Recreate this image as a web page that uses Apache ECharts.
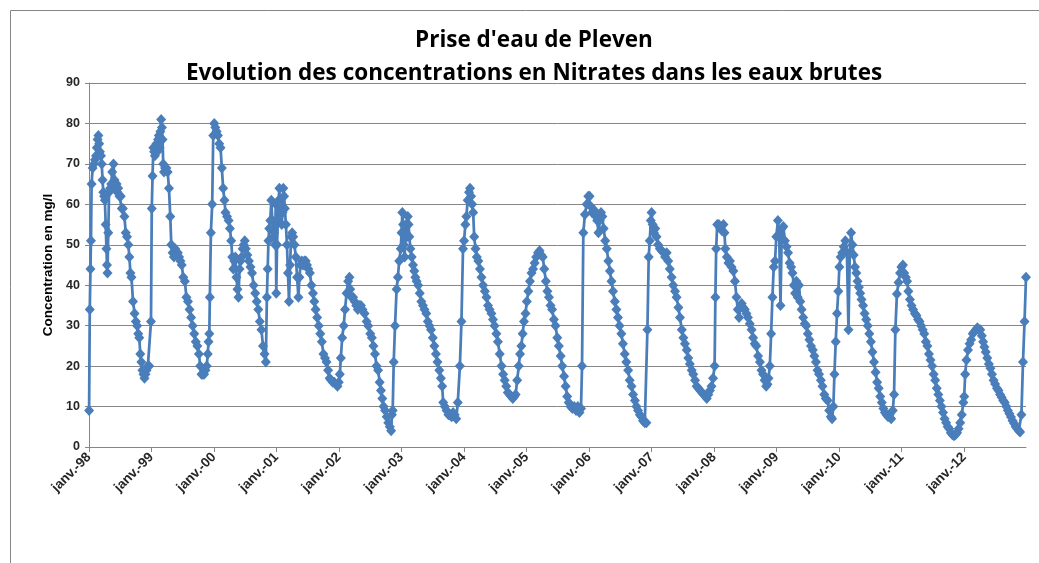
<!DOCTYPE html>
<html lang="fr">
<head>
    <meta charset="UTF-8">
    <title>Prise d'eau de Pleven</title>
    <style>
        html, body {
            margin: 0;
            padding: 0;
            background: #fff;
        }

        #container {
            width: 1039px;
            height: 563px;
        }
    </style>
    <script src="https://cdn.jsdelivr.net/npm/echarts@6/dist/echarts.min.js"></script>
</head>
<body>
<div id="container"></div>
<script type="text/javascript">
    // annees affichees sur l'axe (janv. de chaque annee)
    var years = [1998, 1999, 2000, 2001, 2002, 2003, 2004, 2005, 2006, 2007, 2008, 2009, 2010, 2011, 2012];

    // mesures : [mois dans l'annee (0-12), nitrates mg/l]
    var n1998 = [[0.02, 9], [0.15, 34], [0.28, 44], [0.38, 51], [0.5, 65], [0.7, 69], [0.95, 70], [1.15, 71], [1.35, 72], [1.5, 74], [1.65, 76], [1.8, 77], [1.95, 75], [2.1, 73], [2.3, 72], [2.45, 70], [2.6, 66], [2.75, 63], [2.9, 62], [3.05, 61], [3.2, 55], [3.35, 49], [3.45, 45], [3.55, 43], [3.7, 53], [3.85, 63], [4.05, 64], [4.25, 65], [4.45, 68], [4.7, 70], [4.9, 66], [5.1, 64], [5.3, 65], [5.45, 63], [5.6, 64], [5.85, 62], [6.1, 62], [6.3, 59], [6.5, 59], [6.8, 57], [7.05, 53], [7.3, 52], [7.55, 50], [7.75, 47], [7.95, 43], [8.15, 42], [8.45, 36], [8.75, 33], [9.0, 31], [9.25, 30], [9.45, 28], [9.65, 27], [9.85, 23], [10.05, 21], [10.25, 19], [10.45, 18], [10.65, 17], [10.85, 18], [11.05, 19], [11.3, 20], [11.55, 20], [11.9, 31]];
    var n1999 = [[0.05, 59], [0.2, 67], [0.35, 74], [0.5, 73], [0.65, 72], [0.8, 74], [0.95, 75], [1.1, 73], [1.25, 76], [1.4, 77], [1.55, 74], [1.7, 78], [1.85, 81], [2.0, 79], [2.12, 76], [2.25, 70], [2.4, 68], [2.6, 69], [2.85, 69], [3.1, 68], [3.35, 64], [3.6, 57], [3.8, 50], [4.05, 48], [4.3, 47], [4.55, 49], [4.8, 48], [5.05, 48], [5.3, 47], [5.55, 46], [5.8, 45], [6.1, 42], [6.4, 41], [6.7, 37], [7.0, 36], [7.3, 34], [7.6, 32], [7.9, 30], [8.2, 28], [8.5, 26], [8.8, 25], [9.1, 23], [9.35, 20], [9.6, 18], [9.85, 18], [10.1, 18], [10.35, 19], [10.6, 20], [10.8, 23], [10.95, 26], [11.1, 28], [11.2, 37], [11.4, 53], [11.65, 60], [11.85, 77]];
    var n2000 = [[0.05, 80], [0.25, 79], [0.5, 78], [0.75, 77], [1.0, 75], [1.25, 74], [1.5, 69], [1.75, 64], [2.0, 61], [2.2, 58], [2.5, 57], [2.8, 56], [3.05, 54], [3.3, 51], [3.5, 47], [3.7, 44], [3.9, 46], [4.1, 47], [4.3, 42], [4.5, 39], [4.7, 37], [4.9, 44], [5.1, 46], [5.3, 47], [5.5, 49], [5.7, 50], [5.9, 51], [6.1, 49], [6.4, 47.5], [6.7, 46], [7.0, 44.5], [7.3, 43], [7.6, 40], [7.9, 38], [8.2, 36], [8.5, 34], [8.8, 31], [9.1, 29], [9.4, 25], [9.7, 23], [9.95, 21], [10.15, 37], [10.3, 44], [10.45, 51], [10.6, 54], [10.8, 56], [11.0, 61], [11.2, 56], [11.4, 52], [11.55, 53], [11.7, 50], [11.85, 60], [11.95, 38]];
    var n2001 = [[0.1, 50], [0.25, 56], [0.4, 61], [0.55, 64], [0.7, 58], [0.85, 60], [1.0, 55], [1.15, 58], [1.3, 64], [1.45, 62], [1.6, 59], [1.8, 55], [2.0, 50], [2.2, 43], [2.4, 36], [2.6, 45], [2.8, 52], [3.0, 53], [3.2, 52], [3.45, 50], [3.7, 47], [3.95, 42], [4.2, 37], [4.4, 42], [4.6, 45], [4.85, 46], [5.1, 45], [5.35, 46], [5.6, 46], [5.85, 45], [6.1, 44], [6.4, 43], [6.7, 40], [7.0, 38], [7.25, 36], [7.5, 34], [7.8, 32], [8.1, 30], [8.4, 28], [8.7, 26], [9.0, 23], [9.3, 22], [9.6, 21], [9.9, 19], [10.2, 17], [10.5, 16.5], [10.8, 16], [11.1, 16], [11.4, 15.5], [11.7, 15], [11.95, 16]];
    var n2002 = [[0.15, 18], [0.35, 22], [0.6, 27], [0.9, 30], [1.15, 34], [1.45, 38], [1.75, 41], [2.0, 42], [2.15, 39], [2.4, 37], [2.7, 37], [3.0, 36], [3.3, 35], [3.6, 34], [3.9, 35], [4.2, 35], [4.5, 34], [4.9, 33], [5.3, 31], [5.6, 30], [6.0, 28], [6.3, 27], [6.6, 25], [6.9, 23], [7.2, 20], [7.5, 19], [7.8, 16], [8.05, 14], [8.3, 12], [8.55, 10], [8.85, 9], [9.15, 7.5], [9.45, 6], [9.75, 5], [10.0, 4], [10.15, 8], [10.3, 9], [10.5, 21], [10.75, 30], [11.05, 39], [11.3, 42], [11.55, 46], [11.85, 49]];
    var n2003 = [[0.0, 53], [0.15, 58], [0.3, 55], [0.45, 50], [0.6, 47], [0.75, 53], [0.9, 55], [1.05, 52], [1.2, 57], [1.35, 55], [1.5, 52], [1.7, 49], [1.95, 47], [2.2, 45], [2.45, 43.5], [2.65, 42], [2.9, 41], [3.2, 40], [3.5, 38], [3.8, 36], [4.1, 35], [4.4, 34], [4.75, 33], [5.05, 31], [5.35, 30], [5.65, 29], [6.0, 27], [6.3, 25], [6.6, 23], [6.9, 21], [7.25, 19], [7.55, 17], [7.8, 15], [8.0, 11], [8.3, 10], [8.65, 9], [9.0, 8], [9.3, 8], [9.6, 7.5], [9.9, 8.5], [10.2, 8], [10.5, 7], [10.8, 11], [11.2, 20], [11.5, 31], [11.8, 49]];
    var n2004 = [[0.0, 51], [0.25, 55], [0.45, 57], [0.7, 61], [0.95, 63], [1.15, 64], [1.35, 62], [1.55, 60], [1.75, 58], [1.95, 52], [2.2, 49], [2.45, 47], [2.75, 46], [3.05, 44], [3.35, 42], [3.65, 40], [4.0, 38.5], [4.3, 37], [4.6, 35], [4.9, 34], [5.25, 33], [5.55, 31.5], [5.85, 30], [6.2, 28], [6.5, 26], [6.85, 23], [7.2, 20], [7.5, 18], [7.8, 16.5], [8.1, 15], [8.4, 13.5], [8.75, 13], [9.05, 12.5], [9.35, 12], [9.65, 12.5], [9.9, 13], [10.2, 16.5], [10.5, 20], [10.75, 23], [11.0, 25], [11.25, 28], [11.5, 31], [11.8, 33]];
    var n2005 = [[0.05, 36], [0.35, 38.5], [0.65, 41], [0.95, 43], [1.25, 44], [1.55, 45.5], [1.85, 47], [2.2, 48], [2.5, 48.5], [2.8, 47.5], [3.1, 47], [3.4, 44], [3.7, 41], [4.0, 38.5], [4.3, 37], [4.6, 35], [4.9, 34], [5.25, 31.5], [5.55, 30], [5.9, 27], [6.2, 25], [6.55, 22.5], [6.85, 20], [7.2, 17.5], [7.5, 15], [7.8, 12.5], [8.1, 11], [8.45, 10], [8.8, 9.5], [9.15, 10], [9.5, 9], [9.85, 10], [10.15, 8.5], [10.45, 9.5], [10.65, 20], [10.9, 53], [11.2, 57.5], [11.55, 60], [11.85, 62]];
    var n2006 = [[0.1, 62], [0.3, 59.5], [0.55, 58], [0.8, 58], [1.05, 58.5], [1.3, 57], [1.55, 56], [1.8, 53], [2.05, 56], [2.3, 58], [2.55, 57], [2.8, 54], [3.1, 51], [3.4, 49], [3.7, 46], [4.0, 43.5], [4.3, 41], [4.6, 38.5], [4.95, 36], [5.25, 34], [5.55, 32], [5.85, 30], [6.2, 28], [6.5, 25.5], [6.85, 23], [7.15, 21], [7.5, 19], [7.8, 16.5], [8.15, 15], [8.45, 13], [8.8, 11.5], [9.1, 10], [9.4, 9], [9.75, 8], [10.05, 7.5], [10.35, 6.5], [10.7, 6], [11.0, 6], [11.2, 29], [11.45, 47], [11.65, 51], [11.85, 56]];
    var n2007 = [[0.0, 58], [0.2, 55], [0.45, 53], [0.7, 54], [0.95, 52], [1.25, 50], [1.6, 49], [1.95, 48.5], [2.3, 48], [2.6, 47], [2.9, 48], [3.2, 46], [3.5, 44], [3.85, 42], [4.15, 40], [4.5, 38.5], [4.8, 37], [5.15, 34.5], [5.45, 32], [5.8, 29], [6.1, 27], [6.4, 25.5], [6.75, 24], [7.05, 22], [7.35, 20.5], [7.7, 19], [8.0, 18], [8.35, 16.5], [8.65, 15], [9.0, 14.5], [9.3, 14], [9.65, 13.5], [10.0, 13], [10.3, 12.5], [10.6, 12], [10.9, 13], [11.2, 14], [11.5, 15], [11.8, 17]];
    var n2008 = [[0.1, 20], [0.25, 37], [0.4, 49], [0.6, 55], [0.9, 55], [1.2, 54], [1.5, 53.5], [1.8, 55], [2.0, 53], [2.15, 49], [2.45, 47], [2.75, 45.5], [3.05, 46], [3.35, 44.5], [3.7, 43.5], [4.0, 41], [4.3, 37], [4.55, 34], [4.8, 32], [5.05, 34.5], [5.3, 35.5], [5.6, 34.5], [5.9, 34], [6.2, 33], [6.5, 32], [6.85, 30.5], [7.2, 29], [7.5, 27], [7.8, 25.5], [8.1, 25], [8.45, 22.5], [8.8, 21], [9.1, 19], [9.4, 18], [9.7, 16.5], [10.0, 15], [10.25, 15.5], [10.45, 17], [10.7, 20], [10.95, 28], [11.2, 37], [11.45, 44.5], [11.7, 46], [11.95, 52]];
    var n2009 = [[0.25, 56], [0.5, 52], [0.75, 35], [1.0, 54], [1.3, 54.5], [1.6, 51], [1.9, 49.5], [2.2, 48], [2.5, 45.5], [2.8, 44.5], [3.05, 43], [3.3, 40], [3.55, 38], [3.8, 41], [4.05, 37], [4.3, 40], [4.55, 36], [4.8, 34], [5.1, 32], [5.4, 30.5], [5.7, 30], [6.0, 28], [6.3, 26.5], [6.6, 25], [6.95, 24], [7.25, 22.5], [7.55, 21], [7.85, 19], [8.15, 18], [8.5, 16.5], [8.8, 15], [9.15, 13], [9.45, 12], [9.8, 11.5], [10.1, 9], [10.4, 7.5], [10.65, 7], [10.9, 10], [11.1, 18], [11.35, 26], [11.6, 33], [11.85, 38.5]];
    var n2010 = [[0.05, 44.5], [0.3, 47], [0.6, 48], [0.9, 49.5], [1.2, 51], [1.5, 48], [1.8, 29], [2.05, 48], [2.3, 53], [2.55, 50], [2.8, 47.5], [3.05, 44.5], [3.3, 43], [3.55, 41], [3.8, 39.5], [4.05, 38], [4.3, 36.5], [4.6, 35], [4.9, 33], [5.2, 31.5], [5.5, 30], [5.8, 28], [6.1, 26], [6.4, 23.5], [6.7, 21], [7.0, 18.5], [7.3, 16], [7.6, 14.5], [7.9, 12.5], [8.2, 11], [8.5, 9.5], [8.8, 8.5], [9.1, 8], [9.4, 7.5], [9.7, 8], [10.0, 7], [10.3, 9], [10.55, 13], [10.8, 29], [11.1, 37.8], [11.4, 40.7], [11.7, 43], [11.95, 44.5]];
    var n2011 = [[0.25, 45], [0.5, 43], [0.8, 42], [1.05, 41], [1.3, 38.5], [1.6, 36.5], [1.9, 35], [2.2, 34], [2.55, 33], [2.85, 32.5], [3.15, 31.5], [3.45, 31], [3.75, 30], [4.05, 29], [4.35, 28], [4.65, 26], [4.95, 25], [5.25, 23], [5.55, 21.5], [5.85, 20], [6.15, 18], [6.45, 16.5], [6.75, 14.5], [7.05, 13], [7.35, 11.5], [7.65, 10], [7.95, 8.5], [8.25, 7], [8.55, 6], [8.85, 5], [9.15, 4.5], [9.45, 3.5], [9.75, 3], [10.05, 2.8], [10.35, 3], [10.65, 3.5], [10.95, 4.5], [11.25, 6], [11.55, 8], [11.85, 11]];
    var n2012 = [[0.02, 12.5], [0.2, 18], [0.45, 21.5], [0.75, 24], [1.05, 25.5], [1.35, 26.5], [1.65, 28], [1.95, 28.5], [2.25, 29], [2.55, 29.5], [2.85, 29], [3.1, 29], [3.4, 27.5], [3.65, 26], [3.9, 24.7], [4.15, 23.5], [4.45, 22], [4.75, 20.5], [5.05, 19.5], [5.35, 18], [5.65, 16.5], [5.95, 15.6], [6.3, 14.5], [6.6, 14], [6.9, 13], [7.2, 12.3], [7.5, 11.5], [7.8, 11], [8.1, 10], [8.4, 9], [8.7, 8.2], [9.0, 7.4], [9.3, 6.5], [9.6, 5.8], [9.9, 5], [10.2, 4.5], [10.5, 4], [10.75, 3.7], [11.0, 8], [11.3, 21], [11.6, 31], [11.88, 42]];

    var samples = [n1998, n1999, n2000, n2001, n2002, n2003, n2004, n2005, n2006, n2007, n2008, n2009, n2010, n2011, n2012];

    var xMax = 2012.99;

    var points = [];
    years.forEach(function (y, i) {
        samples[i].forEach(function (p) {
            points.push([y + p[0] / 12, p[1]]);
        });
    });

    var dom = document.getElementById("container");
    var myChart = echarts.init(dom);
    var axisGray = '#868686';
    var labelFont = 'Liberation Sans, Arial, sans-serif';
    var titleStyle = {fontFamily: 'Open Sans', fontWeight: 'bold', fontSize: 22.5, color: '#000'};

    var option = {
        animation: false,
        backgroundColor: '#fff',
        title: [{
            text: "Prise d'eau de Pleven",
            left: 529,
            top: 24,
            textAlign: 'center',
            textStyle: titleStyle
        }, {
            text: 'Evolution des concentrations en Nitrates dans les eaux brutes',
            left: 529,
            top: 57,
            textAlign: 'center',
            textStyle: titleStyle
        }],
        // cadre de la zone graphique
        graphic: [{
            type: 'rect',
            silent: true,
            shape: {x: 10.5, y: 10.5, width: 1100, height: 700},
            style: {fill: 'none', stroke: axisGray, lineWidth: 1}
        }],
        grid: {left: 89, right: 13, top: 83, bottom: 116},
        xAxis: {
            type: 'value',
            min: 1998,
            max: xMax,
            axisLine: {lineStyle: {color: axisGray}},
            axisTick: {show: true, customValues: years, length: 5, lineStyle: {color: axisGray}},
            splitLine: {show: false},
            axisLabel: {
                customValues: years,
                rotate: 45,
                margin: 8,
                fontFamily: labelFont,
                fontWeight: 'bold',
                fontSize: 13.5,
                color: '#262626',
                formatter: function (v) {
                    return 'janv.-' + String(Math.round(v)).slice(2);
                }
            }
        },
        yAxis: {
            type: 'value',
            min: 0,
            max: 90,
            interval: 10,
            name: 'Concentration en mg/l',
            nameLocation: 'middle',
            nameGap: 34,
            nameTextStyle: {fontFamily: labelFont, fontWeight: 'bold', fontSize: 13.5, color: '#000'},
            axisLine: {show: true, lineStyle: {color: axisGray}},
            axisTick: {show: true, length: 4, lineStyle: {color: axisGray}},
            splitLine: {lineStyle: {color: axisGray}},
            axisLabel: {
                margin: 9,
                fontFamily: labelFont,
                fontWeight: 'bold',
                fontSize: 12.5,
                color: '#262626'
            }
        },
        series: [{
            type: 'line',
            data: points,
            clip: false,
            symbol: 'diamond',
            symbolSize: [10, 11],
            itemStyle: {color: '#4a7ebb'},
            lineStyle: {color: '#4a7ebb', width: 2.75}
        }]
    };

    myChart.setOption(option);
</script>
</body>
</html>
